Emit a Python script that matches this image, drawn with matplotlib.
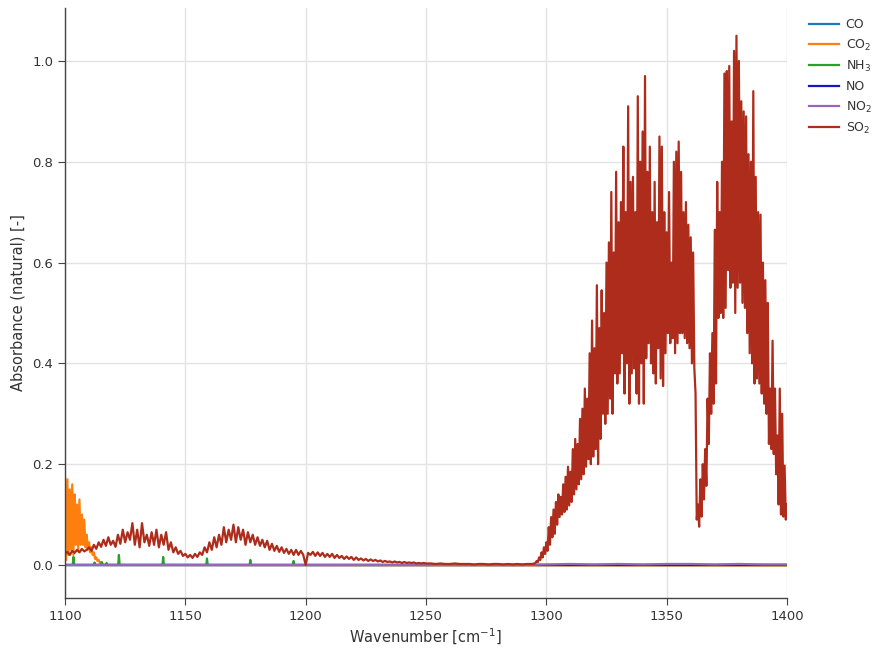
import numpy as np
import matplotlib
matplotlib.use("Agg")
import matplotlib.pyplot as plt

# SO2 absorbance
so2_wn_a = np.arange(1100, 1251, 1.0)
so2_a = [0.022, 0.026, 0.020, 0.028, 0.024, 0.030, 0.025, 0.032, 0.027, 0.030,
         0.035, 0.028, 0.040, 0.032, 0.045, 0.036, 0.050, 0.038, 0.055, 0.040,
         0.048, 0.036, 0.060, 0.042, 0.070, 0.045, 0.065, 0.050, 0.083, 0.040,
         0.070, 0.035, 0.083, 0.045, 0.060, 0.038, 0.065, 0.040, 0.070, 0.035,
         0.060, 0.040, 0.065, 0.030, 0.045, 0.025, 0.035, 0.022, 0.028, 0.018,
         0.022, 0.015, 0.020, 0.014, 0.022, 0.016, 0.025, 0.020, 0.035, 0.025,
         0.045, 0.030, 0.055, 0.035, 0.060, 0.040, 0.075, 0.045, 0.070, 0.050,
         0.080, 0.045, 0.075, 0.050, 0.070, 0.040, 0.065, 0.045, 0.060, 0.040,
         0.055, 0.038, 0.050, 0.035, 0.048, 0.030, 0.042, 0.028, 0.038, 0.026,
         0.035, 0.024, 0.032, 0.022, 0.030, 0.020, 0.030, 0.020, 0.028, 0.020,
         0.000, 0.024, 0.020, 0.026, 0.018, 0.025, 0.018, 0.024, 0.016, 0.022,
         0.016, 0.022, 0.014, 0.020, 0.014, 0.018, 0.012, 0.017, 0.012, 0.016,
         0.010, 0.015, 0.010, 0.013, 0.009, 0.012, 0.008, 0.011, 0.008, 0.010,
         0.007, 0.009, 0.006, 0.008, 0.006, 0.007, 0.005, 0.007, 0.005, 0.006,
         0.004, 0.006, 0.004, 0.005, 0.004, 0.005, 0.003, 0.004, 0.003, 0.004,
         0.003]
so2_wn_b = np.arange(1252, 1295, 2.0)
so2_b = [0.003, 0.002, 0.003, 0.002, 0.002, 0.003, 0.002, 0.002, 0.002, 0.001, 0.002,
         0.002, 0.001, 0.002, 0.002, 0.001, 0.002, 0.001, 0.002, 0.001, 0.002, 0.002]
so2_wn_c = np.arange(1295, 1400.1, 0.5)
so2_c = [0.003, 0.004, 0.008, 0.006, 0.015, 0.010, 0.025, 0.015, 0.035, 0.022,
         0.045, 0.028, 0.075, 0.040, 0.095, 0.055, 0.110, 0.062, 0.125, 0.080,
         0.140, 0.095, 0.135, 0.100, 0.160, 0.105, 0.175, 0.110, 0.195, 0.118,
         0.185, 0.125, 0.230, 0.140, 0.250, 0.150, 0.240, 0.160, 0.290, 0.170,
         0.310, 0.180, 0.350, 0.195, 0.330, 0.210, 0.420, 0.200, 0.485, 0.215,
         0.430, 0.230, 0.555, 0.200, 0.470, 0.250, 0.545, 0.300, 0.500, 0.280,
         0.600, 0.300, 0.640, 0.330, 0.740, 0.300, 0.620, 0.380, 0.780, 0.360,
         0.680, 0.380, 0.720, 0.420, 0.830, 0.340, 0.700, 0.400, 0.910, 0.320,
         0.760, 0.380, 0.770, 0.390, 0.700, 0.340, 0.930, 0.320, 0.800, 0.400,
         0.860, 0.320, 0.970, 0.410, 0.780, 0.440, 0.830, 0.400, 0.700, 0.380,
         0.760, 0.360, 0.680, 0.430, 0.850, 0.370, 0.830, 0.355, 0.700, 0.420,
         0.660, 0.460, 0.740, 0.440, 0.600, 0.450, 0.800, 0.420, 0.820, 0.440,
         0.840, 0.460, 0.780, 0.460, 0.700, 0.450, 0.720, 0.440, 0.675, 0.430,
         0.650, 0.400, 0.620, 0.390, 0.340, 0.090, 0.120, 0.076, 0.170, 0.096,
         0.200, 0.130, 0.230, 0.157, 0.330, 0.240, 0.420, 0.300, 0.460, 0.320,
         0.665, 0.360, 0.760, 0.490, 0.700, 0.500, 0.800, 0.490, 0.975, 0.510,
         0.980, 0.585, 0.990, 0.550, 0.880, 0.560, 1.020, 0.500, 1.050, 0.550,
         1.000, 0.560, 0.920, 0.520, 0.900, 0.510, 0.890, 0.460, 0.815, 0.420,
         0.800, 0.400, 0.940, 0.360, 0.770, 0.370, 0.700, 0.360, 0.695, 0.340,
         0.600, 0.320, 0.565, 0.300, 0.520, 0.240, 0.350, 0.230, 0.445, 0.220,
         0.350, 0.180, 0.257, 0.120, 0.350, 0.100, 0.300, 0.096, 0.197, 0.090,
         0.120]
so2_wn = np.concatenate([so2_wn_a, so2_wn_b, so2_wn_c])
so2 = so2_a + so2_b + so2_c

# CO2 only shows at the low wavenumber edge
co2_wn = list(np.arange(1100, 1116.1, 0.5)) + [1400]
co2 = [0.175, 0.010, 0.170, 0.020, 0.150, 0.030, 0.160, 0.020, 0.140, 0.040,
       0.120, 0.030, 0.130, 0.040, 0.100, 0.040, 0.090, 0.035, 0.060, 0.030,
       0.045, 0.025, 0.035, 0.020, 0.025, 0.012, 0.015, 0.008, 0.010, 0.004,
       0.005, 0.002, 0.000, -0.001]

# NH3 small lines
nh3_wn = [1100, 1103.2, 1103.5, 1103.8, 1112, 1112.3, 1112.6, 1115, 1115.3, 1115.6,
          1117, 1117.3, 1117.6, 1122.1, 1122.4, 1122.7, 1140.5, 1140.8, 1141.1,
          1158.7, 1159, 1159.3, 1176.7, 1177, 1177.3, 1194.7, 1195, 1195.3, 1400]
nh3 = [0, 0, 0.016, 0, 0, 0.005, 0, 0, 0.006, 0,
       0, 0.004, 0, 0, 0.020, 0, 0, 0.016, 0,
       0, 0.013, 0, 0, 0.010, 0, 0, 0.008, 0, 0]

# CO, NO, NO2 stay near zero
base_wn = np.arange(1100, 1401, 10.0)
co = [0.0] * len(base_wn)
no = [0.0] * len(base_wn)
no2 = [0.000, 0.000, 0.000, 0.000, 0.000, 0.000, 0.000, 0.000, 0.000, 0.000,
       0.000, 0.000, 0.000, 0.000, 0.000, 0.000, 0.000, 0.000, 0.000, 0.000,
       0.001, 0.002, 0.001, 0.002, 0.001, 0.002, 0.002, 0.001, 0.002, 0.001, 0.001]

series = [("CO", base_wn, co, "#1f77b4"),
          ("CO$_2$", co2_wn, co2, "#ff7f0e"),
          ("NH$_3$", nh3_wn, nh3, "#2ca02c"),
          ("NO", base_wn, no, "#1414c8"),
          ("NO$_2$", base_wn, no2, "#9467bd"),
          ("SO$_2$", so2_wn, so2, "#ad2c1b")]

fig = plt.figure(figsize=(8.73, 6.49), dpi=100)
ax = fig.add_axes([65/873, 51/649, 722/873, 590/649])

for name, x, y, c in series:
    ax.plot(x, y, color=c, linewidth=1.6, label=name)

ax.set_xlim(1100, 1400)
ax.set_ylim(-0.0655, 1.105)
ax.set_xticks(np.arange(1100, 1401, 50))
ax.set_yticks(np.arange(0, 1.01, 0.2))
ax.set_yticklabels(["%.1f" % v for v in np.arange(0, 1.01, 0.2)])
ax.grid(True, color="#e3e3e3", linewidth=1)
ax.set_axisbelow(True)
for s in ["top", "right"]:
    ax.spines[s].set_visible(False)
for s in ["left", "bottom"]:
    ax.spines[s].set_color("#444444")
    ax.spines[s].set_linewidth(1)
ax.tick_params(direction="out", length=5, color="#444444", labelsize=9.5,
               labelcolor="#333333")
ax.set_xlabel("Wavenumber [cm$^{-1}$]", fontsize=10.5, color="#333333", labelpad=3)
ax.set_ylabel("Absorbance (natural) [-]", fontsize=10.5, color="#333333", labelpad=5)

fig.legend(loc="upper left", bbox_to_anchor=(798/873, 1 - 7/649), frameon=False,
           fontsize=9, handlelength=2.4, handletextpad=0.5, labelspacing=0.5,
           labelcolor="#333333")

fig.savefig("out.png", dpi=100)
